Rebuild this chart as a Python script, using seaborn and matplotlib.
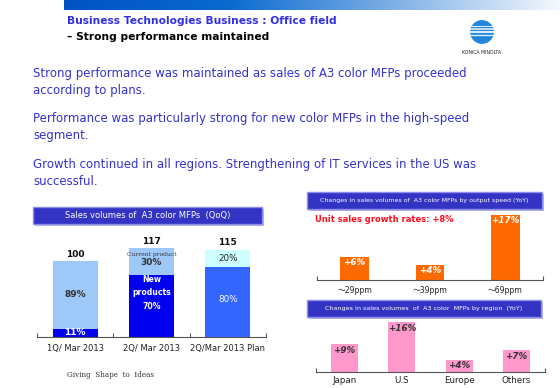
import numpy as np
import pandas as pd
import matplotlib
matplotlib.use("Agg")
import matplotlib.pyplot as plt
import seaborn as sns
from matplotlib.patches import Rectangle, Circle
from matplotlib.colors import LinearSegmentedColormap

# ---- data ----
qoq_periods = ["1Q/ Mar 2013", "2Q/ Mar 2013", "2Q/Mar 2013 Plan"]
qoq_totals = [100, 117, 115]
qoq_new_share = [11, 70, 80]       # % of bar (bottom segment)
qoq_cur_share = [89, 30, 20]       # % of bar (top segment)

speed_cats = ["～29ppm", "～39ppm", "～69ppm"]
speed_growth = [6, 4, 17]
total_growth = 8

region_cats = ["Japan", "U.S", "Europe", "Others"]
region_growth = [9, 16, 4, 7]

bullets = [
    "Strong performance was maintained as sales of A3 color MFPs proceeded\naccording to plans.",
    "Performance was particularly strong for new color MFPs in the high-speed\nsegment.",
    "Growth continued in all regions. Strengthening of IT services in the US was\nsuccessful.",
]

W, H = 560, 388
sns.set_theme(style="white")
plt.rcParams["font.family"] = ["DejaVu Sans", "Noto Sans CJK JP"]
fig = plt.figure(figsize=(W / 100, H / 100), dpi=100)
fig.patch.set_facecolor("white")


def px_axes(x0, y0, x1, y1):
    return fig.add_axes([x0 / W, 1 - y1 / H, (x1 - x0) / W, (y1 - y0) / H])


def ftxt(x, y, s, **kw):
    kw.setdefault("va", "center")
    return fig.text(x / W, 1 - y / H, s, **kw)


def header_box(x0, y0, x1, y1, text, size):
    fig.patches.append(Rectangle(((x0 + 2) / W, 1 - (y1 + 2) / H), (x1 - x0) / W, (y1 - y0) / H,
                                 transform=fig.transFigure, facecolor="#b8b8c8", edgecolor="none"))
    fig.patches.append(Rectangle((x0 / W, 1 - y1 / H), (x1 - x0) / W, (y1 - y0) / H,
                                 transform=fig.transFigure, facecolor="#3434c4",
                                 edgecolor="#8c8cf0", linewidth=1.0))
    ftxt((x0 + x1) / 2, (y0 + y1) / 2, text, ha="center", color="white", fontsize=size)


def style_axis(ax, n):
    ax.set_xlim(-0.5, n - 0.5)
    ax.set_xlabel(""); ax.set_ylabel("")
    ax.set_yticks([])
    ax.tick_params(axis="x", which="major", length=0)
    ax.tick_params(axis="x", which="minor", direction="in", length=3, color="#555555",
                   width=0.8, bottom=True)
    for sp in ["top", "left", "right"]:
        ax.spines[sp].set_visible(False)
    ax.spines["bottom"].set_color("#555555")
    ax.spines["bottom"].set_linewidth(0.8)
    ax.patch.set_alpha(0)


# ---- top banner ----
ban = px_axes(64, 0, 560, 10)
cmap = LinearSegmentedColormap.from_list("ban", ["#0052c4", "#0a6ad0", "#7fb0e6", "#f4f8fd"])
ban.imshow(np.linspace(0, 1, 256)[None, :], aspect="auto", cmap=cmap, extent=[0, 1, 0, 1])
ban.axis("off")

ftxt(67, 21, "Business Technologies Business : Office field", color="#3030e0",
     fontsize=7.7, fontweight="bold")
ftxt(67, 37, "– Strong performance maintained", color="black", fontsize=7.7, fontweight="bold")

# logo
lg = px_axes(468, 18, 496, 46)
lg.set_xlim(-1, 1); lg.set_ylim(-1, 1); lg.axis("off")
circ = Circle((0, 0), 0.85, facecolor="#1f86dc", edgecolor="none")
lg.add_patch(circ)
for yy, lw in [(0.45, 0.8), (0.2, 1.2), (0.0, 1.5), (-0.2, 1.0)]:
    ln, = lg.plot([-1, 1], [yy, yy], color="white", lw=lw, alpha=0.85)
    ln.set_clip_path(circ)
ftxt(482, 52, "KONICA MINOLTA", ha="center", fontsize=3.3, color="#222222")

# ---- bullet text ----
for s, y in zip(bullets, [82, 127, 173]):
    ftxt(33, y, s, color="#3333cc", fontsize=8.45, linespacing=1.45)

# ---- left chart: stacked QoQ ----
header_box(33, 207, 262, 224, "Sales volumes of  A3 color MFPs  (QoQ)", 6.0)
df_q = pd.DataFrame({"period": qoq_periods, "total": qoq_totals,
                     "new": [t * p / 100 for t, p in zip(qoq_totals, qoq_new_share)]})
axq = px_axes(37, 230, 266, 337)
sns.barplot(data=df_q, x="period", y="total", hue="period", ax=axq, legend=False,
            palette=["#9ec8f8", "#9ec8f8", "#ccffff"], width=0.59, saturation=1, edgecolor="none")
sns.barplot(data=df_q, x="period", y="new", hue="period", ax=axq, legend=False,
            palette=["#0000ee", "#0000ee", "#3366ff"], width=0.59, saturation=1, edgecolor="none")
style_axis(axq, 3)
axq.set_ylim(0, 107 / 0.76)
axq.set_xticks(range(3))
axq.set_xticklabels(qoq_periods, fontsize=6.0, color="#222222")
axq.set_xticks([-0.5, 0.5, 1.5, 2.5], minor=True)
axq.tick_params(axis="x", which="major", pad=5)
for i, (t, n, c) in enumerate(zip(qoq_totals, qoq_new_share, qoq_cur_share)):
    nv = t * n / 100
    axq.text(i, t + 3, str(t), ha="center", va="bottom", fontsize=6.5, fontweight="bold", color="#111111")
    if i == 0:
        axq.text(i, nv / 2, f"{n}%", ha="center", va="center", fontsize=6.5, fontweight="bold", color="white")
        axq.text(i, nv + (t - nv) / 2, f"{c}%", ha="center", va="center", fontsize=6.5,
                 fontweight="bold", color="#333333")
    elif i == 1:
        axq.text(i, t - 8, "Current product", ha="center", va="center", fontsize=4.3,
                 color="#333333", family="DejaVu Serif")
        axq.text(i, t - 19, f"{c}%", ha="center", va="center", fontsize=6.5, fontweight="bold", color="#333333")
        axq.text(i, nv - 24, f"New\nproducts\n{n}%", ha="center", va="center", fontsize=5.6,
                 fontweight="bold", color="white", linespacing=1.6)
    else:
        axq.text(i, nv + (t - nv) / 2, f"{c}%", ha="center", va="center", fontsize=6.3, color="#222222")
        axq.text(i, nv / 2 + 3, f"{n}%", ha="center", va="center", fontsize=6.3, color="white")

ftxt(67, 375, "Giving  Shape  to  Ideas", fontsize=5.2, color="#333333", family="DejaVu Serif")

# ---- right top chart: by speed ----
header_box(307, 192, 542, 209, "Changes in sales volumes of  A3 color MFPs by output speed (YoY)", 4.5)
ftxt(315, 220, f"Unit sales growth rates: +{total_growth}%", color="#ff1020", fontsize=6.0, fontweight="bold")
df_s = pd.DataFrame({"speed": speed_cats, "growth": speed_growth})
axs = px_axes(317, 200, 543, 280)
sns.barplot(data=df_s, x="speed", y="growth", ax=axs, color="#ff6a00", saturation=1,
            width=0.38, edgecolor="none")
style_axis(axs, 3)
axs.set_ylim(0, 80 / 3.85)
axs.set_xticks(range(3))
axs.set_xticklabels(speed_cats, fontsize=5.6, color="#222222",
                    family=["DejaVu Sans", "Noto Sans CJK JP"])
axs.set_xticks([-0.5, 2.5], minor=True)
axs.tick_params(axis="x", which="major", pad=4)
for i, v in enumerate(speed_growth):
    axs.text(i, v - 0.4, f"+{v}%", ha="center", va="top", fontsize=6.3, fontweight="bold",
             fontstyle="italic", color="white")

# ---- right bottom chart: by region ----
header_box(307, 300, 541, 317, "Changes in sales volumes  of  A3 color  MFPs by region  (YoY)", 4.6)
df_r = pd.DataFrame({"region": region_cats, "growth": region_growth})
axr = px_axes(316, 318, 545, 372)
sns.barplot(data=df_r, x="region", y="growth", ax=axr, color="#ff99cc", saturation=1,
            width=0.47, edgecolor="none")
style_axis(axr, 4)
axr.set_ylim(0, 54 / 3.1)
axr.set_xticks(range(4))
axr.set_xticklabels(region_cats, fontsize=6.3, color="#222222")
axr.set_xticks([-0.5, 3.5], minor=True)
axr.tick_params(axis="x", which="major", pad=3)
for i, v in enumerate(region_growth):
    axr.text(i, v - 0.5, f"+{v}%", ha="center", va="top", fontsize=6.3, fontweight="bold",
             fontstyle="italic", color="#333333")

fig.savefig("out.png", dpi=100, facecolor="white")
